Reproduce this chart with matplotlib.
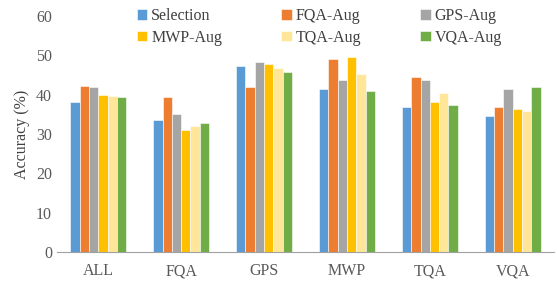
import matplotlib.pyplot as plt
import numpy as np

plt.rcParams['font.family'] = ['Liberation Serif', 'DejaVu Serif']

categories = ['ALL', 'FQA', 'GPS', 'MWP', 'TQA', 'VQA']
series = ['Selection', 'FQA-Aug', 'GPS-Aug', 'MWP-Aug', 'TQA-Aug', 'VQA-Aug']
selection = [38.2, 33.6, 47.3, 41.5, 36.8, 34.6]
fqa_aug = [42.2, 39.5, 41.9, 49.0, 44.4, 37.0]
gps_aug = [41.9, 35.0, 48.3, 43.8, 43.8, 41.4]
mwp_aug = [39.9, 31.0, 47.8, 49.6, 38.1, 36.4]
tqa_aug = [39.7, 32.1, 46.7, 45.3, 40.5, 35.9]
vqa_aug = [39.4, 32.7, 45.8, 41.0, 37.3, 42.0]
colors = ['#5B9BD5', '#ED7D31', '#A5A5A5', '#FFC000', '#FFE699', '#70AD47']

values = [selection, fqa_aug, gps_aug, mwp_aug, tqa_aug, vqa_aug]

fig = plt.figure(figsize=(5.57, 2.82), dpi=100)
ax = fig.add_axes([0.102, 0.106, 0.893, 0.837])

x = np.arange(len(categories))
w = 0.112
bars = []
for i, (name, vals) in enumerate(zip(series, values)):
    b = ax.bar(x + (i - 2.5) * w, vals, w, color=colors[i], label=name,
               edgecolor='white', linewidth=0.4)
    bars.append(b)

ax.set_xlim(-0.5, len(categories) - 0.5)
ax.set_ylim(0, 60)
ax.set_yticks(range(0, 61, 10))
ax.set_xticks(x)
ax.set_xticklabels(categories)
ax.set_ylabel('Accuracy (%)', fontsize=11.5, color='#404040')
ax.tick_params(axis='both', length=0, labelsize=11.5, colors='#595959')
ax.tick_params(axis='x', pad=8)
for s in ['top', 'right', 'left']:
    ax.spines[s].set_visible(False)
ax.spines['bottom'].set_color('#A0A0A0')

# row-major legend order (matplotlib fills columns first)
order = [0, 3, 1, 4, 2, 5]
leg = ax.legend([bars[k] for k in order], [series[k] for k in order],
                ncol=3, loc='upper left', bbox_to_anchor=(0.132, 1.095),
                frameon=False, fontsize=11.5, handlelength=0.65,
                handleheight=0.65, handletextpad=0.25, columnspacing=3.7,
                labelspacing=0.35)
for t in leg.get_texts():
    t.set_color('#404040')

fig.savefig('out.png', dpi=100)
